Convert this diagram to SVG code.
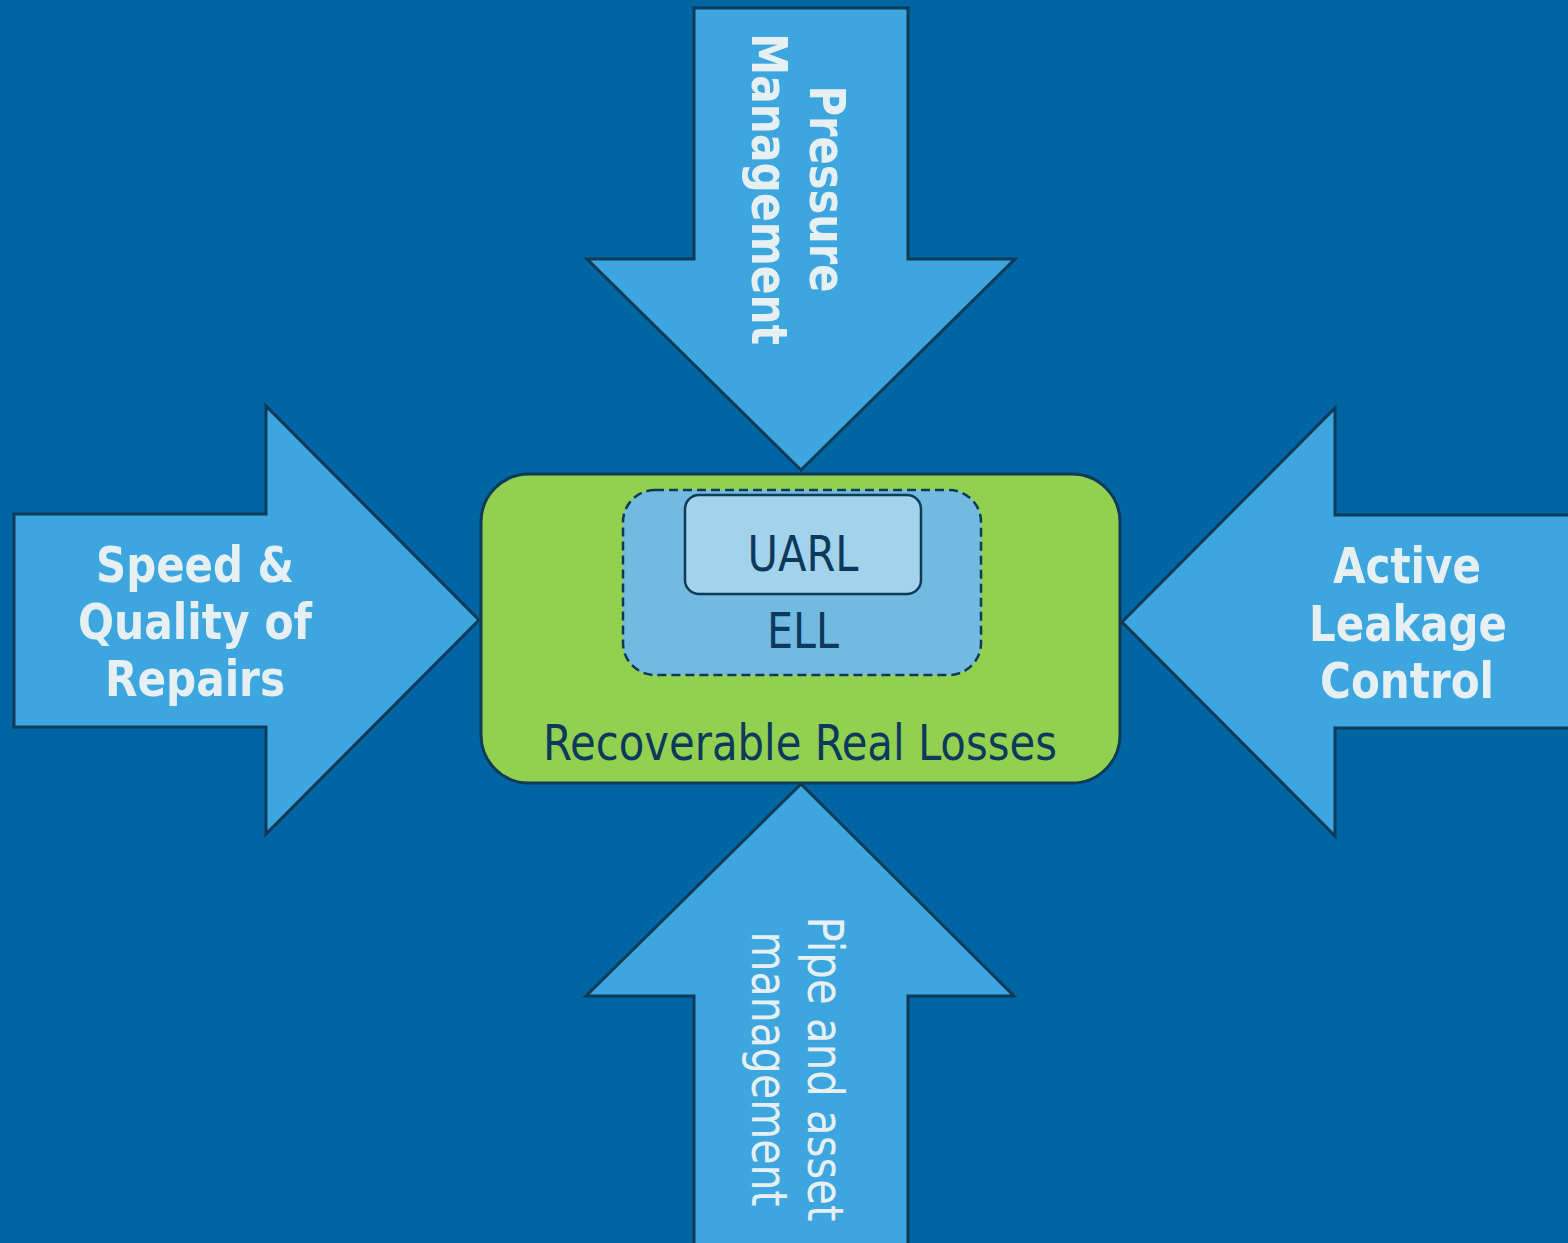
<svg xmlns="http://www.w3.org/2000/svg" width="1568" height="1243" viewBox="0 0 1568 1243">
<style>
.arrow{fill:#3ea6de;stroke:#0f3a58;stroke-width:3;stroke-linejoin:miter}
.wb{font-family:"DejaVu Sans Condensed","DejaVu Sans",sans-serif;font-weight:bold;font-size:50px;fill:#e6f0f3;text-anchor:middle}
.wn{font-family:"DejaVu Sans Condensed","DejaVu Sans",sans-serif;font-size:49px;fill:#e6f0f3;text-anchor:middle}
.dk{font-family:"DejaVu Sans Condensed","DejaVu Sans",sans-serif;font-size:49px;fill:#0d3a5c;text-anchor:middle}
</style>
<rect x="0" y="0" width="1568" height="1243" fill="#0066a3"/>
<g id="top-arrow">
<polygon class="arrow" points="694,8 908,8 908,259 1015,259 801,470 587,259 694,259"/>
<g transform="translate(801,189) rotate(90)">
<text class="wb" x="0" y="-9" textLength="207" lengthAdjust="spacingAndGlyphs">Pressure</text>
<text class="wb" x="0" y="49" textLength="312" lengthAdjust="spacingAndGlyphs">Management</text>
</g>
</g>
<g id="left-arrow">
<polygon class="arrow" points="14,514 266,514 266,406 479,620 266,834 266,727 14,727"/>
<text class="wb" x="195" y="582" textLength="198" lengthAdjust="spacingAndGlyphs">Speed &amp;</text>
<text class="wb" x="195" y="639" textLength="234" lengthAdjust="spacingAndGlyphs">Quality of</text>
<text class="wb" x="195" y="696" textLength="180" lengthAdjust="spacingAndGlyphs">Repairs</text>
</g>
<g id="right-arrow">
<polygon class="arrow" points="1572,515 1335,515 1335,408 1122,622 1335,836 1335,728 1572,728"/>
<text class="wb" x="1407" y="583" textLength="148" lengthAdjust="spacingAndGlyphs">Active</text>
<text class="wb" x="1408" y="641" textLength="198" lengthAdjust="spacingAndGlyphs">Leakage</text>
<text class="wb" x="1407" y="698" textLength="174" lengthAdjust="spacingAndGlyphs">Control</text>
</g>
<g id="bottom-arrow">
<polygon class="arrow" points="801,784 1014,996 908,996 908,1247 694,1247 694,996 586,996"/>
<g transform="translate(801,1069) rotate(90)">
<text class="wn" x="0" y="-7" textLength="305" lengthAdjust="spacingAndGlyphs">Pipe and asset</text>
<text class="wn" x="0" y="49" textLength="275" lengthAdjust="spacingAndGlyphs">management</text>
</g>
</g>
<g id="recoverable-real-losses">
<rect x="481" y="474" width="639" height="309" rx="48" fill="#92d050" stroke="#0f3a58" stroke-width="3"/>
<text class="dk" x="800" y="760" textLength="514" lengthAdjust="spacingAndGlyphs">Recoverable Real Losses</text>
</g>
<g id="ell">
<rect x="623" y="490" width="358" height="185" rx="32" fill="#72bae0" stroke="#0f3a58" stroke-width="2.5" stroke-dasharray="9,5"/>
<text class="dk" x="803" y="648" textLength="72" lengthAdjust="spacingAndGlyphs">ELL</text>
</g>
<g id="uarl">
<rect x="685" y="495" width="236" height="99" rx="14" fill="#a3d3ea" stroke="#0f3a58" stroke-width="2.5"/>
<text class="dk" x="803" y="571" textLength="111" lengthAdjust="spacingAndGlyphs">UARL</text>
</g>
<g id="connectors"/>
</svg>
